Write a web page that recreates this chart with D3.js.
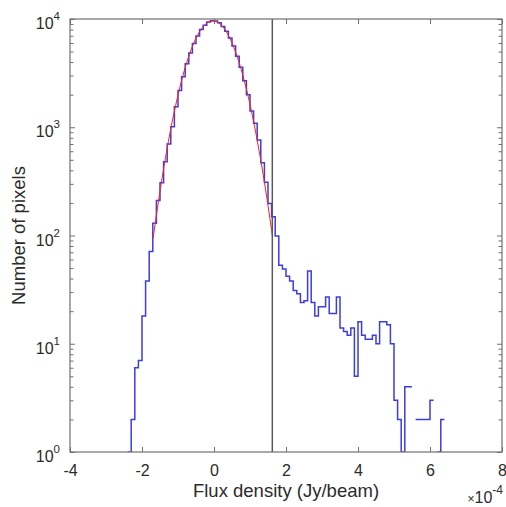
<!DOCTYPE html>
<html>
<head>
<meta charset="utf-8">
<script src="https://cdn.jsdelivr.net/npm/d3@7"></script>
<style>
  body { margin: 0; background: #fff; }
  text { font-family: "Liberation Sans", Arial, sans-serif; fill: #2b2b2b; }
</style>
</head>
<body>
<div id="chart"></div>
<script>
// pixel histogram, flux in units of 1e-4 Jy/beam, bins 0.1 wide from -2.4
const binStart = -2.4;
const binWidth = 0.1;
const pixelCounts = [
  1, 2, 6, 7, 18, 38, 71, 130, 210, 307, 481, 700, 1012,
  1548, 2190, 2931, 3862, 4840, 5947, 6975, 7990, 8770, 9372, 9640,
  9566, 9230, 8541, 7710, 6662, 5620, 4530, 3580, 2688, 1995, 1412,
  1087, 762, 471, 310, 198, 149, 99, 53, 49, 42, 38, 31, 29, 24, 25,
  47, 24, 18, 22, 22, 27, 19, 19, 27, 14, 13, 12, 14, 5, 16, 12, 11,
  11, 12, 10, 16, 16, 15, 10, 3, 2, 1, 4, 4, 0, 2, 2, 2, 2, 3, 0, 1, 2
];

// gaussian fit
const fitX = [-1.69, -1.6, -1.5, -1.4, -1.3, -1.2, -1.1, -1.0, -0.9, -0.8, -0.7, -0.6,
  -0.5, -0.4, -0.3, -0.2, -0.1, 0.0, 0.1, 0.2, 0.3, 0.4, 0.5, 0.6, 0.7, 0.8, 0.9,
  1.0, 1.1, 1.2, 1.3, 1.4, 1.5, 1.6, 1.62];
const fitY = [95, 154, 257, 414, 645, 971, 1413, 1990, 2710, 3569, 4544, 5595,
  6661, 7670, 8539, 9194, 9571, 9636, 9380, 8831, 8038, 7076, 6024, 4958, 3947, 3038, 2261,
  1627, 1133, 762, 496, 312, 190, 112, 100];

const cutoff = 1.62;   // 3 sigma
const xTicks = [-4, -2, 0, 2, 4, 6, 8];
const yDecades = [0, 1, 2, 3, 4];

const margin = { top: 19, right: 4, bottom: 55, left: 70 },
  width = 506 - margin.left - margin.right,
  height = 507 - margin.top - margin.bottom;

const svg = d3.select("#chart").append("svg")
  .attr("width", 506)
  .attr("height", 507)
  .append("g")
  .attr("transform", `translate(${margin.left}, ${margin.top})`);

const x = d3.scaleLinear().domain([-4, 8]).range([0, width]);
const y = d3.scaleLog().domain([1, 1e4]).range([height, 0]);

svg.append("clipPath").attr("id", "plot-clip")
  .append("rect").attr("width", width).attr("height", height);

const plot = svg.append("g").attr("clip-path", "url(#plot-clip)");

// stairs, zero bins break the line like log(0) does
const stairPts = [];
pixelCounts.forEach((c, i) => {
  const x0 = binStart + i * binWidth;
  stairPts.push([x0, c], [x0 + binWidth, c]);
});

const line = d3.line()
  .defined(d => d[1] > 0)
  .x(d => x(d[0]))
  .y(d => y(d[1]));

plot.append("path")
  .datum(stairPts)
  .attr("fill", "none")
  .attr("stroke", "#3c3ce0")
  .attr("stroke-width", 1.5)
  .attr("d", line);

plot.append("path")
  .datum(fitX.map((v, i) => [v, fitY[i]]))
  .attr("fill", "none")
  .attr("stroke", "#ff2020")
  .attr("stroke-width", 1)
  .attr("d", line);

plot.append("line")
  .attr("x1", x(cutoff)).attr("x2", x(cutoff))
  .attr("y1", 0).attr("y2", height)
  .attr("stroke", "#5a5a5a")
  .attr("stroke-width", 1.5);

// axes
const axisColor = "#707070";
const minorTicks = [];
yDecades.slice(0, -1).forEach(d => {
  for (let k = 2; k <= 9; k++) minorTicks.push(k * Math.pow(10, d));
});
const majorTicks = yDecades.map(d => Math.pow(10, d));

function styleAxis(g) {
  g.select(".domain").remove();
  g.selectAll("line").attr("stroke", axisColor).attr("stroke-width", 1);
}

svg.append("g").attr("transform", `translate(0, ${height})`)
  .call(d3.axisBottom(x).tickValues(xTicks).tickSize(-5).tickPadding(13).tickFormat(d => String(d)))
  .call(styleAxis)
  .selectAll("text").attr("font-size", 16).attr("fill", "#2b2b2b")
  .attr("font-family", "Liberation Sans, Arial, sans-serif");

svg.append("g")
  .call(d3.axisTop(x).tickValues(xTicks).tickSize(-5).tickFormat(""))
  .call(styleAxis);

svg.append("g")
  .call(d3.axisLeft(y).tickValues(majorTicks).tickSize(-5).tickFormat(""))
  .call(styleAxis);
svg.append("g")
  .call(d3.axisLeft(y).tickValues(minorTicks).tickSize(-3.5).tickFormat(""))
  .call(styleAxis);
svg.append("g").attr("transform", `translate(${width}, 0)`)
  .call(d3.axisRight(y).tickValues(majorTicks).tickSize(-5).tickFormat(""))
  .call(styleAxis);
svg.append("g").attr("transform", `translate(${width}, 0)`)
  .call(d3.axisRight(y).tickValues(minorTicks).tickSize(-3.5).tickFormat(""))
  .call(styleAxis);

svg.append("rect")
  .attr("width", width).attr("height", height)
  .attr("fill", "none")
  .attr("stroke", axisColor)
  .attr("stroke-width", 1.2);

// y tick labels 10^n
const yLab = svg.selectAll(".ylab").data(yDecades).join("text")
  .attr("class", "ylab")
  .attr("x", -10)
  .attr("y", d => y(Math.pow(10, d)) + 10)
  .attr("text-anchor", "end");
yLab.append("tspan").attr("font-size", 16).text("10");
yLab.append("tspan").attr("font-size", 11.5).attr("dy", -9).text(d => d);

// axis titles
svg.append("text")
  .attr("x", width / 2)
  .attr("y", height + 45)
  .attr("text-anchor", "middle")
  .attr("font-size", 18.5)
  .text("Flux density (Jy/beam)");

svg.append("text")
  .attr("transform", `translate(${-45}, ${height / 2}) rotate(-90)`)
  .attr("text-anchor", "middle")
  .attr("font-size", 18.5)
  .text("Number of pixels");

const expo = svg.append("text")
  .attr("x", width + 1)
  .attr("y", height + 51)
  .attr("text-anchor", "end");
expo.append("tspan").attr("font-size", 12).text("\u00d7");
expo.append("tspan").attr("font-size", 16).text("10");
expo.append("tspan").attr("font-size", 12).attr("dy", -9).text("-4");
</script>
</body>
</html>
